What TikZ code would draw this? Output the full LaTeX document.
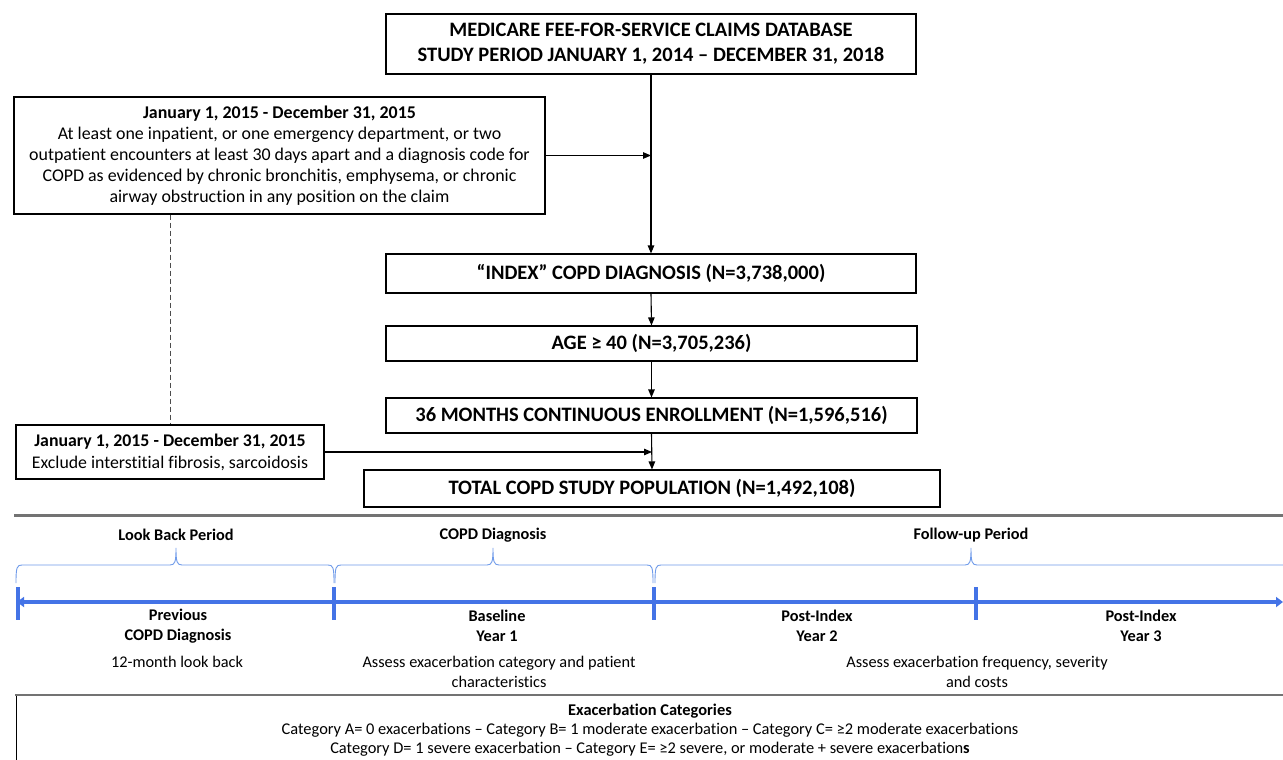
\documentclass[tikz,border=0pt]{standalone}
\usepackage{fontspec}
\setmainfont{Carlito}[Ligatures={NoCommon}]
\usetikzlibrary{arrows.meta}
\definecolor{tlblue}{HTML}{4473E6}
\definecolor{brblue}{HTML}{6F9BEA}
\tikzset{
  box/.style={draw=black,line width=1.1pt,inner sep=0pt,align=center},
  conn/.style={line width=1.1pt,-{Triangle[length=8pt,width=6.5pt]}},
  brc/.style={draw=brblue,line width=0.9pt},
  lbl/.style={inner sep=0pt,align=center,font=\fontsize{16.3}{20}\selectfont},
  blbl/.style={inner sep=0pt,align=center,font=\fontsize{16.3}{20}\selectfont\bfseries},
  tick/.style={draw=tlblue,line width=4pt},
}
\begin{document}
\begin{tikzpicture}[x=1pt,y=-1pt]
\useasboundingbox[fill=white] (0,0) rectangle (1283,760);
% flow boxes
\node[box,minimum width=530,minimum height=60,font=\fontsize{20.5}{25}\selectfont\bfseries] (top) at (651,44)
  {MEDICARE FEE-FOR-SERVICE CLAIMS DATABASE\\STUDY PERIOD JANUARY 1, 2014 – DECEMBER 31, 2018};
\node[box,minimum width=531,minimum height=117,font=\fontsize{17.9}{21}\selectfont] (crit) at (279.5,155.5)
  {\textbf{January 1, 2015 - December 31, 2015}\\At least one inpatient, or one emergency department, or two\\outpatient encounters at least 30 days apart and a diagnosis code for\\COPD as evidenced by chronic bronchitis, emphysema, or chronic\\airway obstruction in any position on the claim};
\node[box,minimum width=530,minimum height=39,font=\fontsize{20.5}{22}\selectfont\bfseries] (index) at (651,273.5)
  {“INDEX” COPD DIAGNOSIS (N=3,738,000)};
\node[box,minimum width=531,minimum height=35,font=\fontsize{20.5}{22}\selectfont\bfseries] (age) at (651.5,343.5)
  {AGE ≥ 40 (N=3,705,236)};
\node[box,minimum width=531,minimum height=35,font=\fontsize{20.5}{22}\selectfont\bfseries] (enr) at (651.5,415.5)
  {36 MONTHS CONTINUOUS ENROLLMENT (N=1,596,516)};
\node[box,minimum width=308,minimum height=54,font=\fontsize{17.8}{22}\selectfont] (excl) at (170,452)
  {\textbf{January 1, 2015 - December 31, 2015}\\Exclude interstitial fibrosis, sarcoidosis};
\node[box,minimum width=576,minimum height=37,font=\fontsize{20.5}{22}\selectfont\bfseries] (total) at (652,488.5)
  {TOTAL COPD STUDY POPULATION (N=1,492,108)};
% connectors
\draw[conn] (top.south) -- (index.north);
\draw[conn] (crit.east) -- (crit.east -| top.south);
\draw[conn] (index.south) -- (age.north);
\draw[conn] (age.south) -- (enr.north);
\draw[conn] (enr.south) -- (total.north);
\draw[conn] (excl.east) -- (excl.east -| total.north);
\coordinate (dtop) at (crit.south -| excl.north);
\draw[line width=0.6pt,dash pattern=on 5pt off 3pt,black!70] (dtop) -- (excl.north);
% separator
\draw[black!55,line width=3pt] (14,515.5) -- (1283,515.5);
% period labels
\node[blbl] (lbp) at (176,535) {Look Back Period};
\node[blbl] (cdp) at (493,535) {COPD Diagnosis};
\node[blbl] (fup) at (971,535) {Follow-up Period};
% braces
\draw[brc] (16,583) .. controls (16,567) and (17,565) .. (22,565) -- (170,565) .. controls (175,565) and (176,562) .. (176,548) .. controls (176,562) and (177,565) .. (182,565) -- (328,565) .. controls (333,565) and (334,567) .. (334,583);
\draw[brc] (335,583) .. controls (335,567) and (336,565) .. (341,565) -- (487,565) .. controls (492,565) and (493,562) .. (493,548) .. controls (493,562) and (494,565) .. (499,565) -- (647,565) .. controls (652,565) and (653,567) .. (653,583);
\draw[brc] (655,583) .. controls (655,567) and (656,565) .. (661,565) -- (965,565) .. controls (970,565) and (971,562) .. (971,548) .. controls (971,562) and (972,565) .. (977,565) -- (1283,565);
% timeline
\draw[draw=tlblue,line width=3.5pt,{Triangle[length=7pt,width=10pt]}-{Triangle[length=7pt,width=10pt]}] (17,602) -- (1283,602);
\draw[tick] (18,587) -- (18,620);
\draw[tick] (334,587) -- (334,620);
\draw[tick] (654,587) -- (654,620);
\draw[tick] (976,587) -- (976,620);
% timeline labels
\node[blbl] (prev) at (178,626) {Previous\\COPD Diagnosis};
\node[lbl] (lb) at (177,662) {12-month look back};
\node[blbl] (base) at (497,626) {Baseline\\Year 1};
\node[lbl] (ass1) at (499,672) {Assess exacerbation category and patient\\characteristics};
\node[blbl] (py2) at (817,626) {Post-Index\\Year 2};
\node[blbl] (py3) at (1141,626) {Post-Index\\Year 3};
\node[lbl] (ass2) at (977,672) {Assess exacerbation frequency, severity\\and costs};
% bottom box
\draw[black,line width=1pt] (16,695) -- (16,762);
\draw[black!55,line width=2pt] (15,695) -- (1285,695);
\node[inner sep=0pt,align=center,font=\fontsize{16.4}{19}\selectfont] (cat) at (650,730)
  {\textbf{Exacerbation Categories}\\Category A= 0 exacerbations – Category B= 1 moderate exacerbation – Category C= ≥2 moderate exacerbations\\Category D= 1 severe exacerbation – Category E= ≥2 severe, or moderate + severe exacerbation\textbf{s}};
\end{tikzpicture}
\end{document}
